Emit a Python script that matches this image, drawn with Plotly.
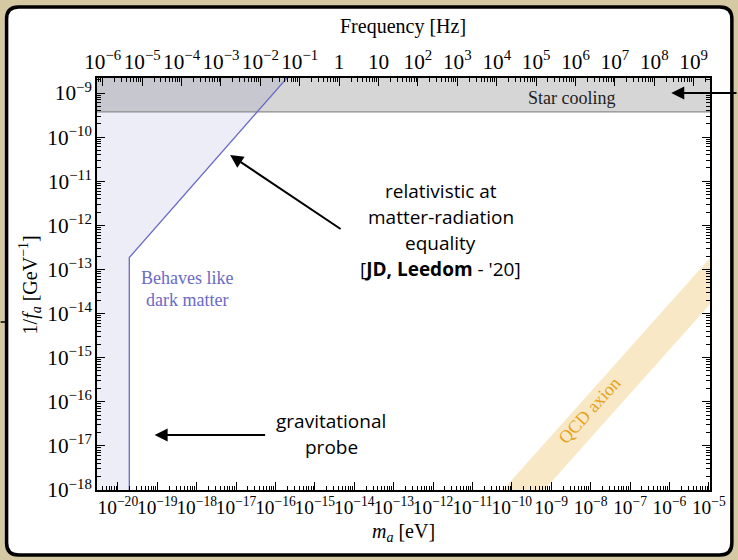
import plotly.graph_objects as go

# ---------------- data ----------------
mass_range_log = [-20.53, -4.97]          # log10(m_a / eV) shown on the bottom axis
coupling_range_log = [-18.0, -8.66]       # log10(1/f_a / GeV^-1) shown on the left axis
log_hz_per_ev = 14.3835                   # log10(1/h) : f[Hz] = m[eV] / h

star_cooling_bound = 10 ** -9.43          # 1/f_a above this excluded
band_edge_mass_far = [1e-22, 1e-3]        # far-off horizontal extent of the cooling band
band_top_coupling = 1e-7

# "behaves like dark matter" boundary (mass, coupling)
dm_boundary_mass = [10 ** -19.71, 10 ** -19.71, 10 ** -15.6]
dm_boundary_coupling = [10 ** -18.6, 10 ** -12.73, 10 ** -8.55]
dm_far_left_mass = 1e-22

# QCD axion band
qcd_mass = [1e-11, 1e-4]
qcd_upper = [10 ** -18.77, 10 ** -11.77]
qcd_lower = [10 ** -19.82, 10 ** -12.82]

# ---------------- geometry helpers ----------------
W, H = 738, 560
ML, MR, MT, MB = 97, 24, 78, 70
PW, PH = W - ML - MR, H - MT - MB


def px(xp, yp):
    return (xp - ML) / PW, (H - MB - yp) / PH


SERIF = "Liberation Serif"
SANS = "Open Sans"

fig = go.Figure()

# dark-matter region (lavender)
fig.add_trace(go.Scatter(
    x=[dm_far_left_mass] + dm_boundary_mass + [dm_far_left_mass],
    y=[dm_boundary_coupling[0]] + dm_boundary_coupling + [dm_boundary_coupling[-1]],
    fill="toself", fillcolor="#ededf8", line=dict(width=0),
    mode="lines", hoverinfo="skip", showlegend=False))

# QCD axion band
fig.add_trace(go.Scatter(
    x=qcd_mass + qcd_mass[::-1],
    y=qcd_upper + qcd_lower[::-1],
    fill="toself", fillcolor="#f8e8c6", line=dict(width=0),
    mode="lines", hoverinfo="skip", showlegend=False))

# star cooling band
fig.add_trace(go.Scatter(
    x=[band_edge_mass_far[0], band_edge_mass_far[1], band_edge_mass_far[1], band_edge_mass_far[0]],
    y=[star_cooling_bound, star_cooling_bound, band_top_coupling, band_top_coupling],
    fill="toself", fillcolor="rgba(0,0,0,0.16)", line=dict(width=0),
    mode="lines", hoverinfo="skip", showlegend=False))
fig.add_trace(go.Scatter(
    x=band_edge_mass_far, y=[star_cooling_bound, star_cooling_bound],
    mode="lines", line=dict(color="#8c8c8c", width=1.2),
    hoverinfo="skip", showlegend=False))

# DM boundary line
fig.add_trace(go.Scatter(
    x=dm_boundary_mass, y=dm_boundary_coupling, mode="lines",
    line=dict(color="#6a6ac8", width=1.3), hoverinfo="skip", showlegend=False))

# dummy trace for top (frequency) axis
fig.add_trace(go.Scatter(
    x=[1.0], y=[1e-12], xaxis="x2", mode="markers",
    marker=dict(opacity=0), hoverinfo="skip", showlegend=False))

minor = dict(ticks="inside", ticklen=4, tickcolor="black", tickwidth=1,
             dtick="D1", showgrid=False)
common = dict(type="log", showgrid=False, zeroline=False, showline=True,
              linecolor="black", linewidth=1.5, ticks="inside", ticklen=8,
              tickwidth=1.2, tickcolor="black", tickangle=0,
              tickmode="linear", tick0=0, dtick=1, exponentformat="power",
              showexponent="all", minor=minor)

fig.update_layout(
    width=W, height=H, autosize=False,
    margin=dict(l=ML, r=MR, t=MT, b=MB),
    paper_bgcolor="#d5c9a3", plot_bgcolor="rgba(0,0,0,0)",
    xaxis=dict(range=mass_range_log, mirror=False,
               tickfont=dict(family=SERIF, size=15.5, color="black"), **common),
    xaxis2=dict(range=[v + log_hz_per_ev for v in mass_range_log],
                overlaying="x", side="top", anchor="y",
                tickfont=dict(family=SERIF, size=17, color="black"), **common),
    yaxis=dict(range=coupling_range_log, mirror="ticks",
               tickfont=dict(family=SERIF, size=17, color="black"), **common),
)

# slide artefact at far left (behind the panel)
x0, y0 = px(0, 322)
x1, _ = px(8, 322)
fig.add_shape(type="line", xref="paper", yref="paper", x0=x0, y0=y0, x1=x1, y1=y0,
              line=dict(color="black", width=1.5), layer="below")

# panel (rounded white rectangle with black border)
L, T, R, B, r = 6, 7, 736, 555, 12
pts = [("M", (L + r, T)), ("L", (R - r, T)), ("Q", (R, T), (R, T + r)),
       ("L", (R, B - r)), ("Q", (R, B), (R - r, B)), ("L", (L + r, B)),
       ("Q", (L, B), (L, B - r)), ("L", (L, T + r)), ("Q", (L, T), (L + r, T))]
path = ""
for item in pts:
    cmd = item[0]
    coords = " ".join("%.5f,%.5f" % px(*p) for p in item[1:])
    path += cmd + coords + " "
path += "Z"
fig.add_shape(type="path", path=path, xref="paper", yref="paper",
              fillcolor="white", line=dict(color="black", width=3.5), layer="below")


def text(s, xp, yp, size=16, family=SERIF, color="black", angle=0):
    x, y = px(xp, yp)
    fig.add_annotation(text=s, x=x, y=y, xref="paper", yref="paper",
                       showarrow=False, xanchor="center", yanchor="middle",
                       textangle=angle, font=dict(family=family, size=size, color=color))


def arrow(head, tail):
    x, y = px(*head)
    fig.add_annotation(text="", x=x, y=y, xref="paper", yref="paper",
                       ax=tail[0] - head[0], ay=tail[1] - head[1],
                       showarrow=True, arrowhead=2, arrowsize=1.3, arrowwidth=2,
                       arrowcolor="black", standoff=0, startstandoff=0)


# axis titles
text("Frequency [Hz]", 405, 27, size=20)
text("<i>m<sub>a</sub></i> [eV]", 405, 532, size=20)
text("1/<i>f<sub>a</sub></i> [GeV<sup>−1</sup>]", 30, 285, size=20, angle=-90)

# labels inside the plot
text("Star cooling", 575, 98, size=18, color="#222222")
text("Behaves like", 188, 278, size=18, color="#6a6ac8")
text("dark matter", 188, 300, size=18, color="#6a6ac8")
text("QCD axion", 593, 410, size=18, color="#e6a21a", angle=-48)

text("relativistic at", 443, 191, size=19, family=SANS)
text("matter-radiation", 443, 217, size=19, family=SANS)
text("equality", 443, 243, size=19, family=SANS)
text("[<b>JD, Leedom</b> - '20]", 443, 269, size=19, family=SANS)
text("gravitational", 333, 421, size=19, family=SANS)
text("probe", 333, 447, size=19, family=SANS)

arrow((675, 93), (760, 93))
arrow((231, 155), (343, 230))
arrow((155, 435), (267, 435))

fig.write_html("out.html")
